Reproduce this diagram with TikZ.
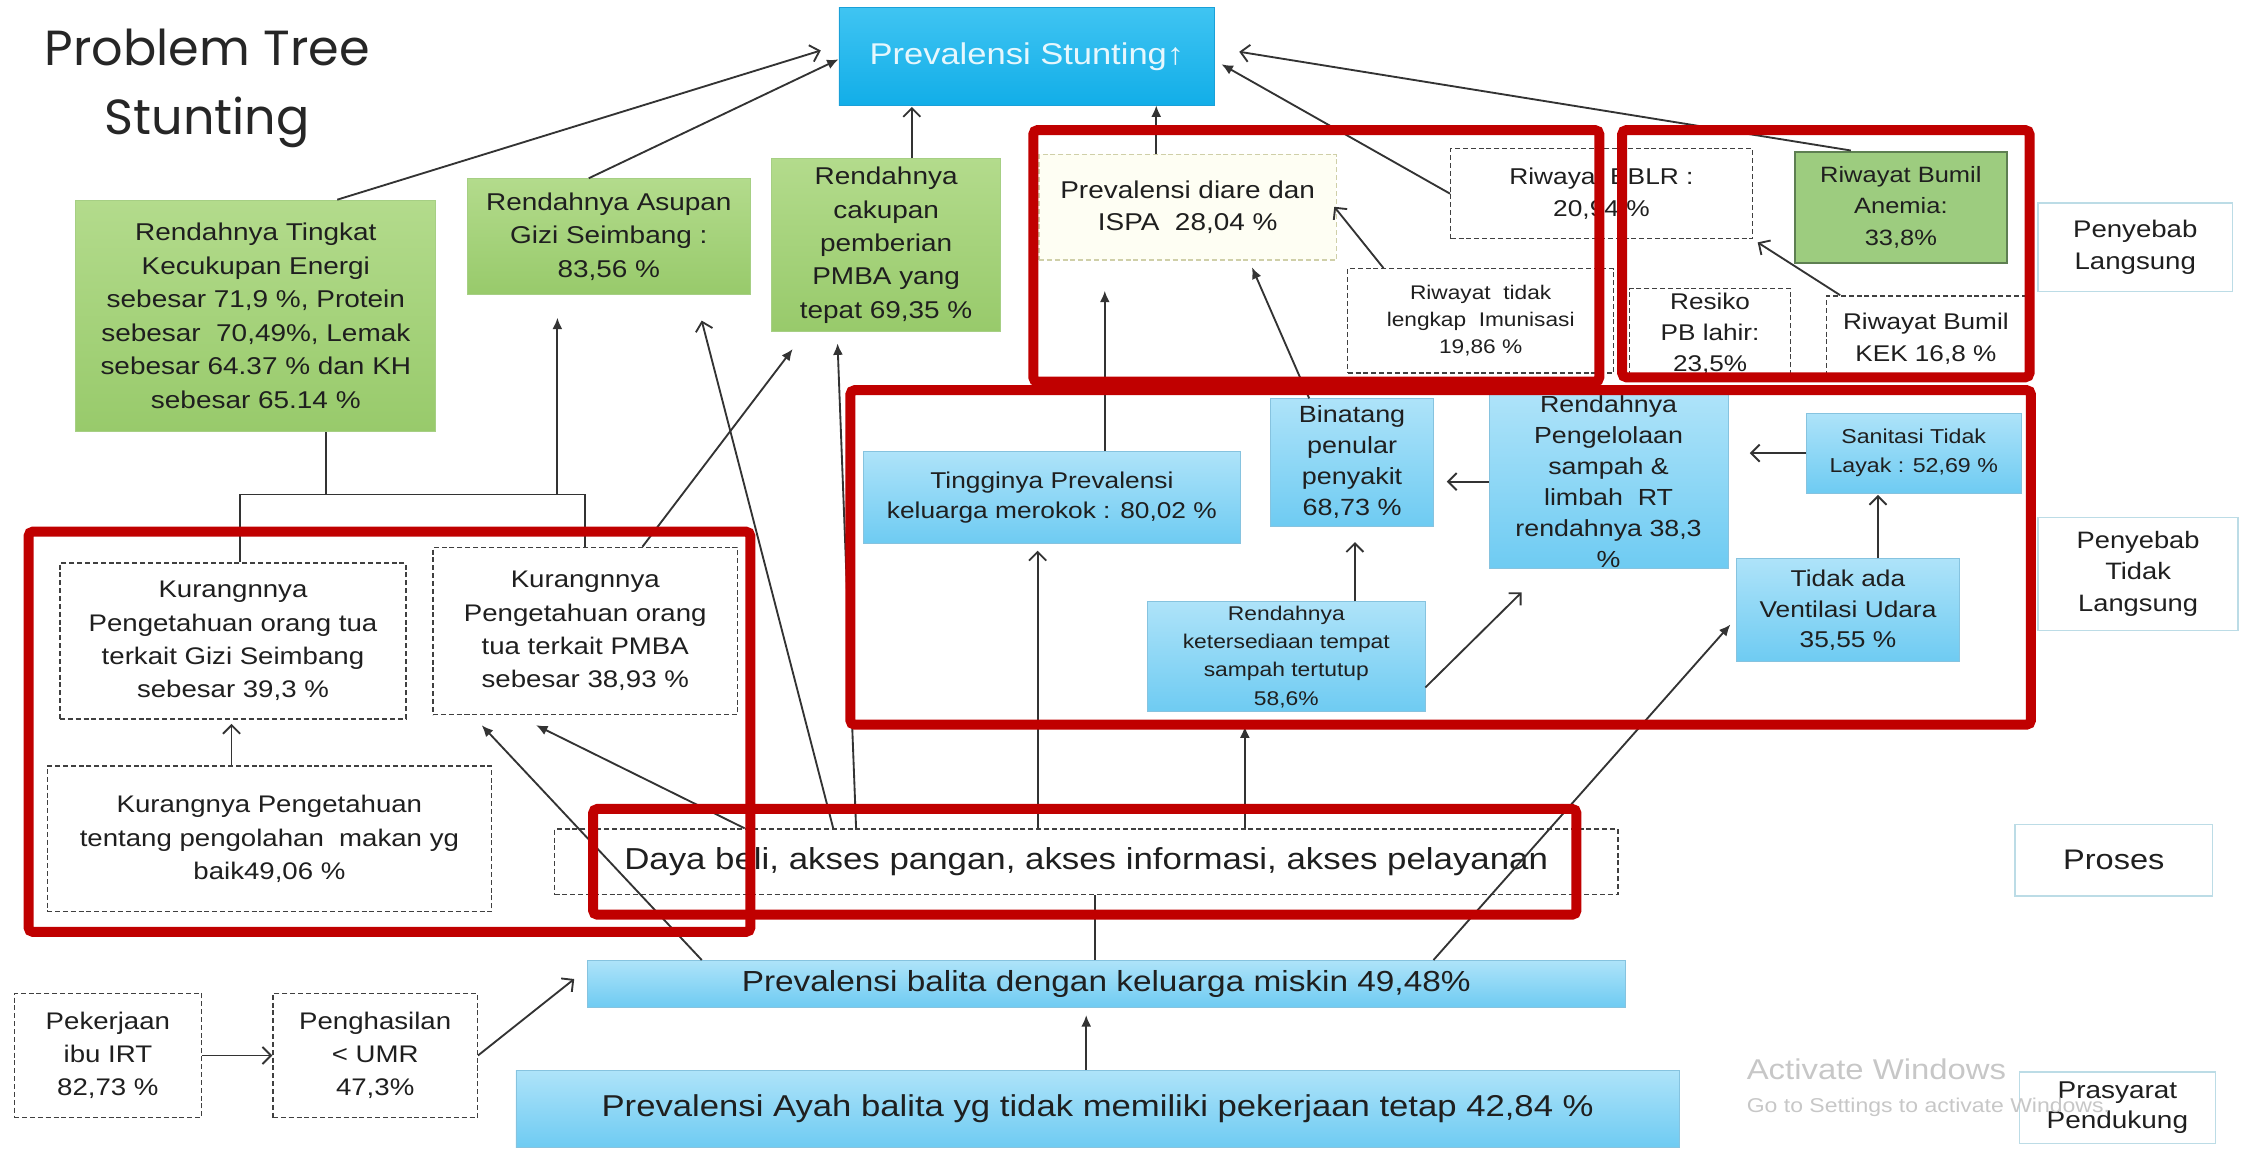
\documentclass[tikz,border=0pt]{standalone}
\usepackage{fontspec}
\setmainfont{Liberation Sans}[FakeStretch=1.15]
\newfontfamily\titlefont{Poppins}
\usetikzlibrary{arrows.meta, calc}

\definecolor{cyanTop}{HTML}{3FC4F2}
\definecolor{cyanBot}{HTML}{12AEE8}
\definecolor{cyanLine}{HTML}{1AA0D8}
\definecolor{bluTop}{HTML}{AEE3F9}
\definecolor{bluBot}{HTML}{6ECBF2}
\definecolor{bluLine}{HTML}{86C3DF}
\definecolor{grnTop}{HTML}{B3DB8C}
\definecolor{grnBot}{HTML}{98CA6B}
\definecolor{grnLine}{HTML}{A6CF84}
\definecolor{anmFill}{HTML}{9DCC7F}
\definecolor{anmLine}{HTML}{5E7F52}
\definecolor{diaFill}{HTML}{FEFEF3}
\definecolor{diaLine}{HTML}{CFCFA8}
\definecolor{tagLine}{HTML}{BCDCE6}
\definecolor{redFrame}{HTML}{C00000}

\newcommand{\fsz}[2]{\fontsize{#1}{#2}\selectfont}

\begin{document}
\begin{tikzpicture}[x=1pt, y=-1pt,
    box/.style={rectangle, align=center, inner sep=0pt, text=black!88},
    sz/.style 2 args={minimum width=#1pt, minimum height=#2pt},
    topbox/.style={box, top color=cyanTop, bottom color=cyanBot, draw=cyanLine, line width=0.6pt, text=white!90!cyan},
    greenbox/.style={box, top color=grnTop, bottom color=grnBot, draw=grnLine, line width=0.6pt},
    bluebox/.style={box, top color=bluTop, bottom color=bluBot, draw=bluLine, line width=0.6pt},
    dashbox/.style={box, draw=black!75, fill=white, line width=0.9pt, dash pattern=on 3.5pt off 2pt},
    diarebox/.style={box, draw=diaLine, fill=diaFill, line width=0.9pt, dash pattern=on 3.5pt off 2pt},
    anemiabox/.style={box, draw=anmLine, fill=anmFill, line width=1.4pt},
    tagbox/.style={box, draw=tagLine, fill=white, line width=1pt},
    conn/.style={draw=black!80, line width=1.3pt},
    arr/.style={conn, -{Latex[length=8pt,width=7pt]}},
    oarr/.style={conn, -{Straight Barb[length=6pt,width=12pt]}},
    redbox/.style={draw=redFrame, line width=7pt, rounded corners=3pt},
    wm/.style={text=black!22, inner sep=0pt}
  ]
  \useasboundingbox (0,0) rectangle (1568,807);

  % Knoten
  \node[align=center, text=black!85, font=\titlefont\fsz{34.5}{48}] (judul) at (145,62) {Problem Tree\\Stunting};
  \node[topbox, sz={263}{68}, font=\fsz{21}{25}] (top) at (718.5,39.5) {Prevalensi Stunting↑};

  \node[greenbox, sz={252}{162}, font=\fsz{17}{23.4}] (tingkat) at (179,221)
    {Rendahnya Tingkat\\Kecukupan Energi\\sebesar 71,9 \%, Protein\\sebesar\ \ 70,49\%, Lemak\\sebesar 64.37 \% dan KH\\sebesar 65.14 \%};
  \node[greenbox, sz={198}{81}, font=\fsz{17}{23.3}] (asupan) at (426,165.5) {Rendahnya Asupan\\Gizi Seimbang :\\83,56 \%};
  \node[greenbox, sz={160}{121}, font=\fsz{17}{23.3}] (pmba) at (620,171.5) {Rendahnya\\cakupan\\pemberian\\PMBA yang\\tepat 69,35 \%};

  \node[diarebox, sz={208}{74}, font=\fsz{17}{22}] (diare) at (831,145) {Prevalensi diare dan\\ISPA\ \ 28,04 \%};
  \node[dashbox, sz={211}{63}, font=\fsz{16}{22}] (bblr) at (1120.5,135.5) {Riwayat BBLR :\\20,94 \%};
  \node[anemiabox, sz={148}{78}, font=\fsz{15.5}{22}] (anemia) at (1330,145) {Riwayat Bumil\\Anemia:\\33,8\%};
  \node[dashbox, sz={186}{73}, font=\fsz{13.8}{19}] (imun) at (1036,224.5) {Riwayat\ \ tidak\\lengkap\ \ Imunisasi\\19,86 \%};
  \node[dashbox, sz={113}{63}, font=\fsz{15.9}{22}] (resiko) at (1196.5,233.5) {Resiko\\PB lahir:\\23,5\%};
  \node[dashbox, sz={139}{60}, font=\fsz{15.9}{22}] (kek) at (1347.5,237) {Riwayat Bumil\\KEK 16,8 \%};
  \node[tagbox, sz={136}{62}, font=\fsz{16.8}{23}] (tagA) at (1494,173) {Penyebab\\Langsung};

  \node[bluebox, sz={264}{64}, font=\fsz{16}{21}] (merokok) at (736,348) {Tingginya Prevalensi\\keluarga merokok : 80,02 \%};
  \node[bluebox, sz={114}{89}, font=\fsz{16.4}{21.7}] (binatang) at (946,323.5) {Binatang\\penular\\penyakit\\68,73 \%};
  \node[bluebox, sz={167}{122}, font=\fsz{16.3}{21.7}] (kelola) at (1125.5,337) {Rendahnya\\Pengelolaan\\sampah \&\\limbah\ \ RT\\rendahnya 38,3\\\%};
  \node[bluebox, sz={150}{56}, font=\fsz{14.1}{20}] (sanitasi) at (1339,317) {Sanitasi Tidak\\Layak : 52,69 \%};
  \node[bluebox, sz={156}{72}, font=\fsz{16}{21.6}] (ventilasi) at (1293,427) {Tidak ada\\Ventilasi Udara\\35,55 \%};
  \node[bluebox, sz={194}{77}, font=\fsz{13.9}{19.8}] (sedia) at (900,459.5) {Rendahnya\\ketersediaan tempat\\sampah tertutup\\58,6\%};
  \node[tagbox, sz={140}{79}, font=\fsz{16.6}{22}] (tagB) at (1496,401.5) {Penyebab\\Tidak\\Langsung};

  \node[dashbox, sz={242}{109}, font=\fsz{16.8}{23.3}] (gizi) at (163,448.5) {Kurangnnya\\Pengetahuan orang tua\\terkait Gizi Seimbang\\sebesar 39,3 \%};
  \node[dashbox, sz={213}{117}, font=\fsz{16.8}{23.3}] (kpmba) at (409.5,441.5) {Kurangnnya\\Pengetahuan orang\\tua terkait PMBA\\sebesar 38,93 \%};
  \node[dashbox, sz={311}{102}, font=\fsz{16.8}{23.3}] (olah) at (188.5,587) {Kurangnya Pengetahuan\\tentang pengolahan\ \ makan yg\\baik49,06 \%};

  \node[dashbox, sz={744}{46}, font=\fsz{21.2}{25}] (daya) at (760,603) {Daya beli, akses pangan, akses informasi, akses pelayanan};
  \node[tagbox, sz={138}{50}, font=\fsz{19.8}{24}] (tagC) at (1479,602) {Proses};
  \node[bluebox, sz={726}{33}, font=\fsz{20.3}{24}] (miskin) at (774,688.5) {Prevalensi balita dengan keluarga miskin 49,48\%};
  \node[bluebox, sz={814}{54}, font=\fsz{21.1}{25}] (ayah) at (768,776) {Prevalensi Ayah balita yg tidak memiliki pekerjaan tetap 42,84 \%};
  \node[dashbox, sz={131}{87}, font=\fsz{16.8}{23.3}] (kerja) at (75.5,738.5) {Pekerjaan\\ibu IRT\\82,73 \%};
  \node[dashbox, sz={143}{87}, font=\fsz{16.8}{23.3}] (hasil) at (262.5,738.5) {Penghasilan\\< UMR\\47,3\%};
  \node[tagbox, sz={137}{50}, font=\fsz{17}{21}] (tagD) at (1481.5,775) {Prasyarat\\Pendukung};

  % Kanten ke atas
  \draw[oarr, shorten >=13pt] ([xshift=57pt]tingkat.north) -- ([yshift=8pt]top.west);
  \draw[arr] ([xshift=-14pt]asupan.north) -- ([yshift=-2pt]top.west);
  \draw[oarr, shorten >=1pt] ([xshift=18pt]pmba.north) -- ([xshift=18pt]pmba.north |- top.south);
  \draw[arr] ([xshift=-22pt]diare.north) -- ([xshift=-22pt]diare.north |- top.south);
  \draw[arr, shorten >=5pt] (bblr.west) -- ([yshift=-3pt]top.east);
  \draw[oarr, shorten >=17pt] ([xshift=-35pt]anemia.north) -- ([yshift=6pt]top.east);

  % Kanten penyebab langsung
  \draw[oarr, shorten >=-3pt] ([xshift=-68pt]imun.north) -- ([yshift=-2pt]diare.east);
  \draw[arr, shorten >=21pt] ([xshift=37pt]merokok.north) -- ([xshift=37pt]merokok.north |- diare.south);
  \draw[arr, shorten >=5pt] ([xshift=-30pt]binatang.north) -- ([xshift=43pt]diare.south);
  \draw[oarr, shorten >=4pt] ([xshift=10pt]kek.north west) -- (bblr.south east);

  % Kanten penyebab tidak langsung
  \draw[oarr, shorten >=9pt] (kelola.west) -- (kelola.west -| binatang.east);
  \draw[oarr, shorten >=15pt] (sanitasi.west) -- (sanitasi.west -| kelola.east);
  \draw[oarr, shorten >=1pt] ([xshift=21pt]ventilasi.north) -- ([xshift=21pt]ventilasi.north |- sanitasi.south);
  \draw[oarr, shorten >=11pt] ([xshift=48pt]sedia.north) -- ([xshift=48pt]sedia.north |- binatang.south);
  \draw[oarr, shorten >=23pt] ([yshift=-21.5pt]sedia.east) -- ([xshift=-44.5pt]kelola.south);

  % Kanten pengetahuan
  \coordinate (bar) at (228,346);
  \draw[conn] (tingkat.south -| bar) -- (bar);
  \draw[conn] ([xshift=5pt]gizi.north) |- (kpmba.north |- bar) -- (kpmba.north);
  \draw[arr, shorten >=16pt] ([xshift=-36pt]asupan.south |- bar) -- ([xshift=-36pt]asupan.south);
  \draw[oarr, shorten >=3pt] ([xshift=-26.5pt]olah.north) -- ([xshift=-26.5pt]olah.north |- gizi.south);
  \draw[arr, shorten >=15pt] ([xshift=40pt]kpmba.north) -- ([xshift=24pt]pmba.south west);

  % Kanten proses
  \draw[oarr, shorten >=18.6pt] ([xshift=-177pt]daya.north) -- ([xshift=60.3pt]asupan.south);
  \draw[arr, shorten >=8pt] ([xshift=-161pt]daya.north) -- ([xshift=-34.3pt]pmba.south);
  \draw[oarr, shorten >=5pt] ([xshift=-10pt]merokok.south |- daya.north) -- ([xshift=-10pt]merokok.south);
  \draw[arr, shorten >=10pt] ([xshift=-29pt]sedia.south |- daya.north) -- ([xshift=-29pt]sedia.south);
  \draw[arr, shorten >=15.7pt] ([xshift=-239pt]daya.north) -- ([xshift=-48.5pt]kpmba.south);

  % Kanten prasyarat
  \draw[arr, shorten >=9.6pt] ([xshift=-283pt]miskin.north) -- ([xshift=-79pt]kpmba.south);
  \draw[conn] ([xshift=-8pt]miskin.north) -- ([xshift=-8pt]miskin.north |- daya.south);
  \draw[arr, shorten >=5pt] ([xshift=-8pt]ayah.north) -- ([xshift=-8pt]ayah.north |- miskin.south);
  \draw[oarr, shorten >=11.4pt] (hasil.east) -- ([yshift=10.6pt]miskin.west);
  \draw[oarr] (kerja.east) -- (hasil.west);
  \draw[arr, shorten >=6pt] ([xshift=229pt]miskin.north) -- ([yshift=-5.5pt]ventilasi.west);

  % Rahmen merah
  \draw[redbox] (20,372) rectangle (525,652);
  \draw[redbox] (723,91) rectangle (1119,267);
  \draw[redbox] (1135,91) rectangle (1420,264);
  \draw[redbox] (595,273) rectangle (1421,507);
  \draw[redbox] (415,566) rectangle (1103,640);

  % Watermark
  \node[wm, anchor=west, font=\fsz{20}{24}] (wmA) at (1222,748) {Activate Windows};
  \node[wm, anchor=west, font=\fsz{14}{17}] (wmB) at (1222,775) {Go to Settings to activate Windows.};
\end{tikzpicture}
\end{document}
